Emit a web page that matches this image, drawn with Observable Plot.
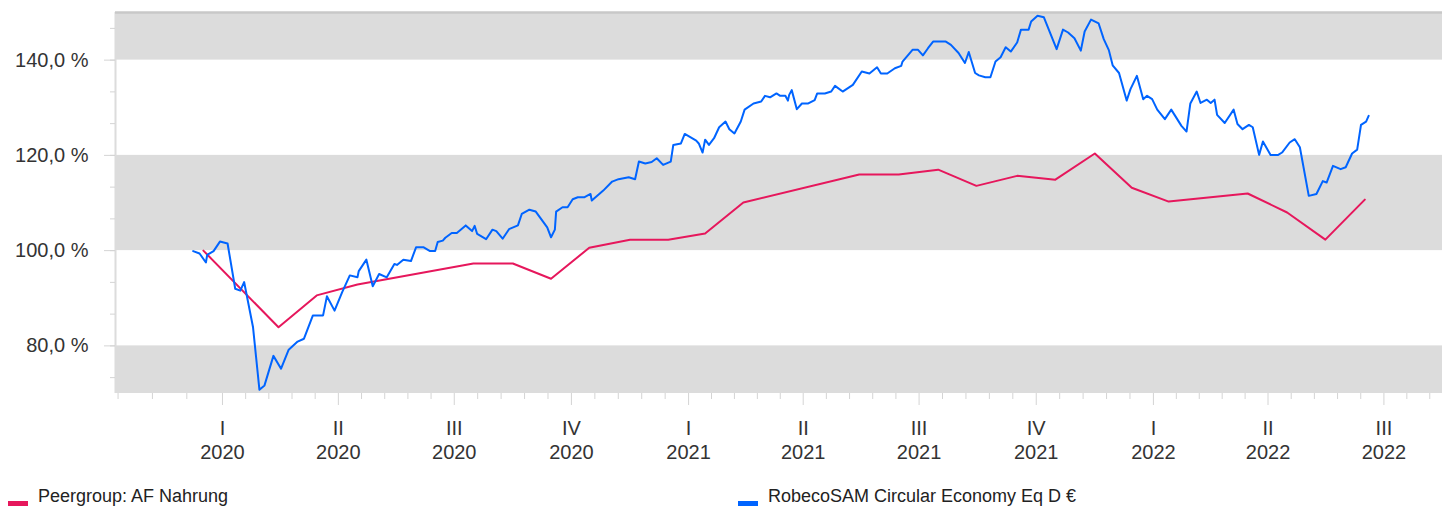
<!DOCTYPE html>
<html><head><meta charset="utf-8">
<script src="https://cdn.jsdelivr.net/npm/d3@7"></script>
<script src="https://cdn.jsdelivr.net/npm/@observablehq/plot@0.6"></script>
<style>
body{margin:0;background:#fff;font-family:"Liberation Sans",Arial,sans-serif;}
#wrap{position:relative;width:1442px;height:506px;overflow:hidden;}
#wrap svg{position:absolute;left:0;top:0;}
.leg{position:absolute;top:487px;font-size:18px;line-height:18px;color:#222;white-space:nowrap;}
.sw{position:absolute;top:501px;width:20px;height:6px;}
</style></head><body><div id="wrap"></div>
<script>
const peerName = "Peergroup: AF Nahrung";
const fundName = "RobecoSAM Circular Economy Eq D €";
const peerColor = "#e6175c";
const fundColor = "#0064ff";

const peerDates = ["2019-12-17","2020-02-14","2020-03-15","2020-04-16","2020-07-16","2020-08-16","2020-09-15","2020-10-15","2020-11-16","2020-12-16","2021-01-14","2021-02-13","2021-05-15","2021-06-15","2021-07-16","2021-08-15","2021-09-16","2021-10-16","2021-11-16","2021-12-15","2022-01-13","2022-03-16","2022-04-16","2022-05-16","2022-06-16"];
const peerValues = [100.0,83.9,90.6,92.9,97.3,97.3,94.1,100.6,102.3,102.3,103.6,110.1,116.0,116.0,117.0,113.6,115.7,114.9,120.4,113.2,110.3,112.0,108.0,102.3,110.7];

const fundDates = ["2019-12-09","2019-12-14","2019-12-19","2019-12-20","2019-12-25","2019-12-30","2020-01-05","2020-01-11","2020-01-15","2020-01-18","2020-01-25","2020-01-30","2020-02-03","2020-02-10","2020-02-16","2020-02-22","2020-02-29","2020-03-05","2020-03-12","2020-03-20","2020-03-23","2020-03-29","2020-04-04","2020-04-10","2020-04-16","2020-04-17","2020-04-23","2020-04-28","2020-05-03","2020-05-09","2020-05-15","2020-05-17","2020-05-22","2020-05-28","2020-06-01","2020-06-07","2020-06-12","2020-06-16","2020-06-18","2020-06-22","2020-06-24","2020-06-29","2020-07-03","2020-07-07","2020-07-10","2020-07-15","2020-07-17","2020-07-19","2020-07-26","2020-07-31","2020-08-03","2020-08-08","2020-08-13","2020-08-20","2020-08-23","2020-08-29","2020-09-03","2020-09-12","2020-09-15","2020-09-18","2020-09-19","2020-09-24","2020-09-28","2020-10-02","2020-10-06","2020-10-11","2020-10-16","2020-10-17","2020-10-26","2020-11-02","2020-11-07","2020-11-15","2020-11-20","2020-11-23","2020-11-28","2020-12-03","2020-12-07","2020-12-12","2020-12-18","2020-12-20","2020-12-26","2020-12-29","2021-01-07","2021-01-09","2021-01-12","2021-01-14","2021-01-17","2021-01-21","2021-01-25","2021-01-30","2021-02-02","2021-02-06","2021-02-11","2021-02-14","2021-02-21","2021-02-27","2021-03-02","2021-03-06","2021-03-11","2021-03-14","2021-03-18","2021-03-20","2021-03-21","2021-03-23","2021-03-27","2021-03-31","2021-04-05","2021-04-10","2021-04-12","2021-04-18","2021-04-23","2021-04-26","2021-05-02","2021-05-10","2021-05-17","2021-05-23","2021-05-29","2021-06-01","2021-06-06","2021-06-12","2021-06-17","2021-06-18","2021-06-26","2021-06-30","2021-07-04","2021-07-08","2021-07-12","2021-07-22","2021-07-26","2021-08-01","2021-08-06","2021-08-09","2021-08-14","2021-08-17","2021-08-22","2021-08-26","2021-08-30","2021-09-03","2021-09-07","2021-09-11","2021-09-16","2021-09-19","2021-09-25","2021-09-27","2021-10-02","2021-10-07","2021-10-17","2021-10-22","2021-10-26","2021-10-31","2021-11-05","2021-11-08","2021-11-13","2021-11-19","2021-11-23","2021-11-27","2021-11-30","2021-12-05","2021-12-11","2021-12-14","2021-12-19","2021-12-24","2021-12-27","2021-12-31","2022-01-04","2022-01-10","2022-01-15","2022-01-23","2022-01-27","2022-01-30","2022-02-04","2022-02-07","2022-02-12","2022-02-15","2022-02-18","2022-02-20","2022-02-26","2022-03-05","2022-03-08","2022-03-12","2022-03-17","2022-03-20","2022-03-25","2022-03-28","2022-04-03","2022-04-09","2022-04-12","2022-04-18","2022-04-22","2022-04-26","2022-05-03","2022-05-09","2022-05-14","2022-05-17","2022-05-22","2022-05-28","2022-06-01","2022-06-06","2022-06-10","2022-06-13","2022-06-17","2022-06-19"];
const fundValues = [99.9,99.4,97.5,99.1,99.9,101.9,101.5,92.0,91.6,93.4,83.9,70.8,71.7,77.9,75.2,79.2,80.9,81.5,86.4,86.4,90.4,87.4,91.3,94.8,94.4,95.7,98.1,92.5,95.1,94.4,97.2,97.0,98.1,97.8,100.7,100.7,99.9,99.9,101.8,102.1,102.7,103.7,103.7,104.6,105.3,104.1,105.2,103.5,102.4,104.4,104.1,102.5,104.5,105.3,107.7,108.6,108.2,104.9,102.8,104.4,108.2,109.1,109.1,110.8,111.2,111.2,111.9,110.5,112.6,114.5,115.0,115.4,115.0,118.7,118.3,118.6,119.4,118.0,118.7,122.2,122.5,124.5,123.1,122.5,120.6,123.3,122.2,123.6,125.9,127.1,125.5,124.6,127.1,129.6,130.9,131.3,132.5,132.2,133.0,132.5,132.5,131.5,132.7,133.7,129.7,130.9,130.9,131.6,133.0,133.0,133.4,134.6,133.4,134.8,137.6,137.2,138.5,137.2,137.2,138.3,138.8,139.7,142.2,142.2,141.0,142.5,143.9,143.9,143.2,141.5,139.4,141.7,137.3,136.8,136.4,136.4,139.7,140.6,142.7,141.8,143.7,146.4,146.4,148.1,149.3,149.0,142.3,146.4,145.8,144.6,142.0,146.0,148.5,147.7,144.4,142.1,138.9,137.3,131.5,133.9,136.7,131.8,132.5,131.8,129.6,127.6,129.6,126.2,125.0,130.9,133.4,131.0,131.7,131.0,131.7,128.5,126.8,129.6,126.6,125.5,126.4,125.9,120.1,122.9,120.1,120.1,120.6,122.7,123.4,121.7,111.5,111.9,114.6,114.3,117.8,117.1,117.5,120.4,121.2,126.4,127.1,128.3];

const quarterTicks = ["2020-01-01","2020-04-01","2020-07-01","2020-10-01","2021-01-01","2021-04-01","2021-07-01","2021-10-01","2022-01-01","2022-04-01","2022-07-01"];
const quarterLabels = ["I","II","III","IV","I","II","III","IV","I","II","III"];
const extraMinorTicks = ["2019-10-11","2019-11-07","2019-12-04","2022-07-19","2022-08-06"];
const yTicks = [80, 100, 120, 140];
const bandLow = [70, 100, 140];
const bandHigh = [80, 120, 150];
const xDomain = ["2019-10-09", "2022-08-16"];
const yDomain = [70, 150];

const parse = d3.utcParse("%Y-%m-%d");
const peer = peerDates.map((d, i) => ({date: parse(d), value: peerValues[i]}));
const fund = fundDates.map((d, i) => ({date: parse(d), value: fundValues[i]}));
const bands = bandLow.map((lo, i) => ({lo, hi: bandHigh[i]}));
const qDates = quarterTicks.map(parse);
const qLabel = new Map(qDates.map((d, i) => [+d, quarterLabels[i] + "\n" + d.getUTCFullYear()]));
const minorX = extraMinorTicks.map(parse);
for (let i = 0; i < qDates.length - 1; i++) {
  const a = +qDates[i], b = +qDates[i + 1];
  for (let k = 1; k < 5; k++) minorX.push(new Date(a + (b - a) * k / 5));
}
const step = (yTicks[1] - yTicks[0]) / 3;
const minorY = [];
for (let v = yTicks[0] - step; v < yDomain[1]; v += step) if (v > yDomain[0]) minorY.push(v);
const fmtY = d => d.toFixed(1).replace(".", ",") + " %";

const H = 470;
const chart = Plot.plot({
  width: 1442,
  height: H,
  marginLeft: 115,
  marginRight: 0,
  marginTop: 12,
  marginBottom: H - 393,
  style: {fontFamily: "'Liberation Sans', Arial, sans-serif", fontSize: "20px", color: "#333", background: "#fff", overflow: "visible"},
  x: {type: "utc", domain: xDomain.map(parse)},
  y: {domain: yDomain},
  marks: [
    Plot.rect(bands, {y1: "lo", y2: "hi", fill: "#dcdcdc"}),
    Plot.ruleX([parse(xDomain[0])], {stroke: "#dcdcdc", strokeWidth: 2}),
    Plot.ruleY([yDomain[1]], {stroke: "#c8c8c8", strokeWidth: 2.5}),
    Plot.axisY({ticks: minorY, tickSize: 5, tickFormat: () => "", stroke: "#d4d4d4"}),
    Plot.axisY({ticks: yTicks, tickSize: 11, tickFormat: () => "", stroke: "#d4d4d4"}),
    Plot.axisY({ticks: yTicks, tickSize: 0, tickPadding: 27, tickFormat: fmtY, fill: "#333", fontSize: 20}),
    Plot.axisX({ticks: minorX, tickSize: 6, tickFormat: () => "", stroke: "#d4d4d4"}),
    Plot.axisX({ticks: qDates, tickSize: 12, tickFormat: () => "", stroke: "#d4d4d4"}),
    Plot.axisX({ticks: qDates, tickSize: 0, tickPadding: 24, tickFormat: d => qLabel.get(+d), lineHeight: 1.2, fill: "#333", fontSize: 20}),
    Plot.line(peer, {x: "date", y: "value", stroke: peerColor, strokeWidth: 2}),
    Plot.line(fund, {x: "date", y: "value", stroke: fundColor, strokeWidth: 2})
  ]
});
const wrap = document.getElementById("wrap");
wrap.appendChild(chart);
const legend = [
  {name: peerName, color: peerColor, sw: 8, tx: 38},
  {name: fundName, color: fundColor, sw: 738, tx: 768}
];
for (const l of legend) {
  const s = document.createElement("div");
  s.className = "sw"; s.style.left = l.sw + "px"; s.style.background = l.color;
  const t = document.createElement("div");
  t.className = "leg"; t.style.left = l.tx + "px"; t.textContent = l.name;
  wrap.appendChild(s); wrap.appendChild(t);
}
</script></body></html>
